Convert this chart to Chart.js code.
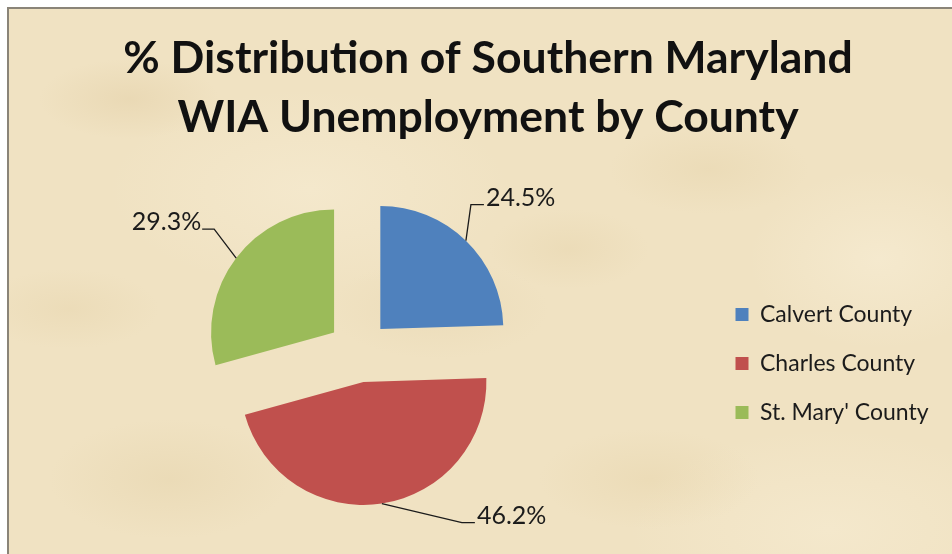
<!DOCTYPE html>
<html>
<head>
<meta charset="utf-8">
<script src="https://cdn.jsdelivr.net/npm/chart.js@4.4.1/dist/chart.umd.min.js"></script>
<style>
  html, body { margin: 0; padding: 0; background: #ffffff; }
  #wrap { position: relative; width: 952px; height: 554px; overflow: hidden; background: #ffffff; }
  #paper {
    position: absolute; left: 7px; top: 7px; width: 960px; height: 560px;
    border-left: 2px solid #8a8478; border-top: 2px solid #8a8478;
    background-color: #f0e2c2;
    background-image:
      radial-gradient(ellipse 90px 40px at 120px 90px, rgba(222,200,156,0.35), rgba(222,200,156,0) 100%),
      radial-gradient(ellipse 110px 50px at 430px 300px, rgba(228,210,170,0.35), rgba(228,210,170,0) 100%),
      radial-gradient(ellipse 100px 45px at 700px 160px, rgba(226,206,162,0.32), rgba(226,206,162,0) 100%),
      radial-gradient(ellipse 120px 60px at 160px 470px, rgba(224,204,160,0.32), rgba(224,204,160,0) 100%),
      radial-gradient(ellipse 110px 50px at 640px 470px, rgba(228,208,164,0.35), rgba(228,208,164,0) 100%),
      radial-gradient(ellipse 80px 40px at 560px 240px, rgba(226,206,162,0.30), rgba(226,206,162,0) 100%),
      radial-gradient(ellipse 90px 40px at 60px 300px, rgba(226,206,162,0.30), rgba(226,206,162,0) 100%),
      radial-gradient(ellipse 130px 90px at 870px 250px, rgba(248,238,214,0.6), rgba(248,238,214,0) 100%),
      radial-gradient(ellipse 200px 100px at 300px 180px, rgba(248,238,214,0.5), rgba(248,238,214,0) 100%),
      radial-gradient(ellipse 200px 100px at 820px 520px, rgba(248,238,214,0.5), rgba(248,238,214,0) 100%);
  }
  #c { position: absolute; left: 0; top: 0; }
</style>
</head>
<body>
<div id="wrap">
  <div id="paper"></div>
  <canvas id="c" width="952" height="554"></canvas>
</div>
<script>
// ---- data ----
const categories = ['Calvert County', 'Charles County', "St. Mary' County"];
const shares = [24.5, 46.2, 29.3];
const valueLabels = ['24.5%', '46.2%', '29.3%'];
const sliceColors = ['#4f81bd', '#c0504d', '#9bbb59'];
const titleLines = ['% Distribution of Southern Maryland', 'WIA Unemployment by County'];

// ---- layout constants (style only) ----
const FONT = 'Lato, Carlito, Calibri, "Open Sans", sans-serif';
const EXPLODE = 31;
const SPACER_W = 37;

// invisible layout spacer between pie area and legend
const spacerPlugin = {
  id: 'spacer',
  beforeInit(chart) {
    const box = {
      position: 'right', weight: 0, fullSize: false,
      options: {},
      width: 0, height: 0, left: 0, top: 0, right: 0, bottom: 0,
      isHorizontal() { return false; },
      update(maxWidth, maxHeight) { this.width = SPACER_W; this.height = maxHeight; },
      draw() {}
    };
    Chart.layouts.addBox(chart, box);
  }
};

// draw each arc pushed outward along its mid angle
const explodePlugin = {
  id: 'explode',
  beforeDatasetDraw(chart, args, opts) {
    const ctx = chart.ctx;
    args.meta.data.forEach(arc => {
      const p = arc.getProps(['startAngle', 'endAngle'], true);
      const mid = (p.startAngle + p.endAngle) / 2;
      ctx.save();
      ctx.translate(Math.cos(mid) * opts.distance, Math.sin(mid) * opts.distance);
      arc.draw(ctx);
      ctx.restore();
    });
    return false;
  }
};

// data labels with elbow leader lines
const leaderPlugin = {
  id: 'leaders',
  afterDatasetsDraw(chart, args, opts) {
    const ctx = chart.ctx;
    const meta = chart.getDatasetMeta(0);
    const texts = opts.texts;
    meta.data.forEach((arc, i) => {
      const p = arc.getProps(['x', 'y', 'startAngle', 'endAngle', 'outerRadius'], true);
      const mid = (p.startAngle + p.endAngle) / 2;
      const cx = p.x + Math.cos(mid) * opts.distance;
      const cy = p.y + Math.sin(mid) * opts.distance;
      const sx = cx + Math.cos(mid) * p.outerRadius;
      const sy = cy + Math.sin(mid) * p.outerRadius;
      const g = opts.geometry[i];
      const ex = sx + g.dx, ey = sy + g.dy;
      const tx = ex + g.seg;
      ctx.save();
      ctx.strokeStyle = '#1b1b1b';
      ctx.lineWidth = 1.3;
      ctx.beginPath();
      ctx.moveTo(sx, sy);
      ctx.lineTo(ex, ey);
      ctx.lineTo(tx, ey);
      ctx.stroke();
      ctx.fillStyle = '#1b1b1b';
      ctx.font = '25px ' + FONT;
      ctx.textBaseline = 'alphabetic';
      ctx.textAlign = g.seg < 0 ? 'right' : 'left';
      ctx.fillText(texts[i], tx + (g.seg < 0 ? -1 : 2), ey + 1);
      ctx.restore();
    });
  }
};

new Chart(document.getElementById('c'), {
  type: 'pie',
  data: {
    labels: categories,
    datasets: [{
      data: shares,
      backgroundColor: sliceColors,
      borderWidth: 0,
      radius: 123
    }]
  },
  options: {
    responsive: false,
    animation: false,
    events: [],
    layout: { padding: { top: 20, left: 45, right: 21, bottom: 10 } },
    plugins: {
      title: {
        display: true,
        text: titleLines,
        color: '#111111',
        font: { family: FONT, size: 44.5, weight: 'bold', lineHeight: 1.31 },
        padding: { top: 10, bottom: 12 }
      },
      legend: {
        position: 'right',
        fullSize: false,
        title: { display: true, text: ' ', font: { size: 12, lineHeight: 1.2 }, padding: { top: 5, bottom: 5 } },
        labels: {
          boxWidth: 13,
          boxHeight: 13,
          padding: 26,
          color: '#1b1b1b',
          font: { family: FONT, size: 23 }
        }
      },
      tooltip: { enabled: false },
      explode: { distance: EXPLODE },
      leaders: {
        distance: EXPLODE,
        texts: valueLabels,
        geometry: [
          { dx: 5, dy: -36, seg: 13 },
          { dx: 80, dy: 19, seg: 13 },
          { dx: -22, dy: -29, seg: -12 }
        ]
      }
    }
  },
  plugins: [spacerPlugin, explodePlugin, leaderPlugin]
});
</script>
</body>
</html>
